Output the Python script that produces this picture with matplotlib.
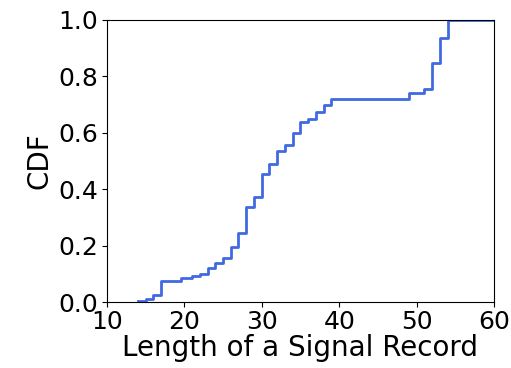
import numpy as np
import matplotlib
matplotlib.use("Agg")
import matplotlib.pyplot as plt

# step positions (record length) and the CDF value from that point on
lengths = [14, 15, 16, 17, 19.6, 21, 22, 23, 24, 25, 26, 27, 28, 29, 30, 31, 32, 33,
           34, 35, 36, 37, 38, 39, 49, 51, 52, 53, 54, 60]
cdf = [0.004, 0.012, 0.025, 0.074, 0.084, 0.092, 0.10, 0.12, 0.139, 0.155, 0.196,
       0.243, 0.335, 0.373, 0.452, 0.487, 0.533, 0.556, 0.597, 0.638, 0.648, 0.673,
       0.697, 0.717, 0.739, 0.755, 0.845, 0.935, 1.0, 1.0]

fig = plt.figure(figsize=(5.11, 3.68), dpi=100)
ax = fig.add_axes([0.209, 0.179, 0.758, 0.768])

ax.step(lengths, cdf, where='post', color='royalblue', linewidth=2)

ax.set_xlim(10, 60)
ax.set_ylim(0, 1.0)
ax.set_xticks([10, 20, 30, 40, 50, 60])
ax.set_yticks([0.0, 0.2, 0.4, 0.6, 0.8, 1.0])
ax.tick_params(labelsize=18, pad=2.5)
ax.set_xlabel('Length of a Signal Record', fontsize=20, labelpad=0)
ax.set_ylabel('CDF', fontsize=20, labelpad=4)

fig.savefig('out.png', dpi=100)
